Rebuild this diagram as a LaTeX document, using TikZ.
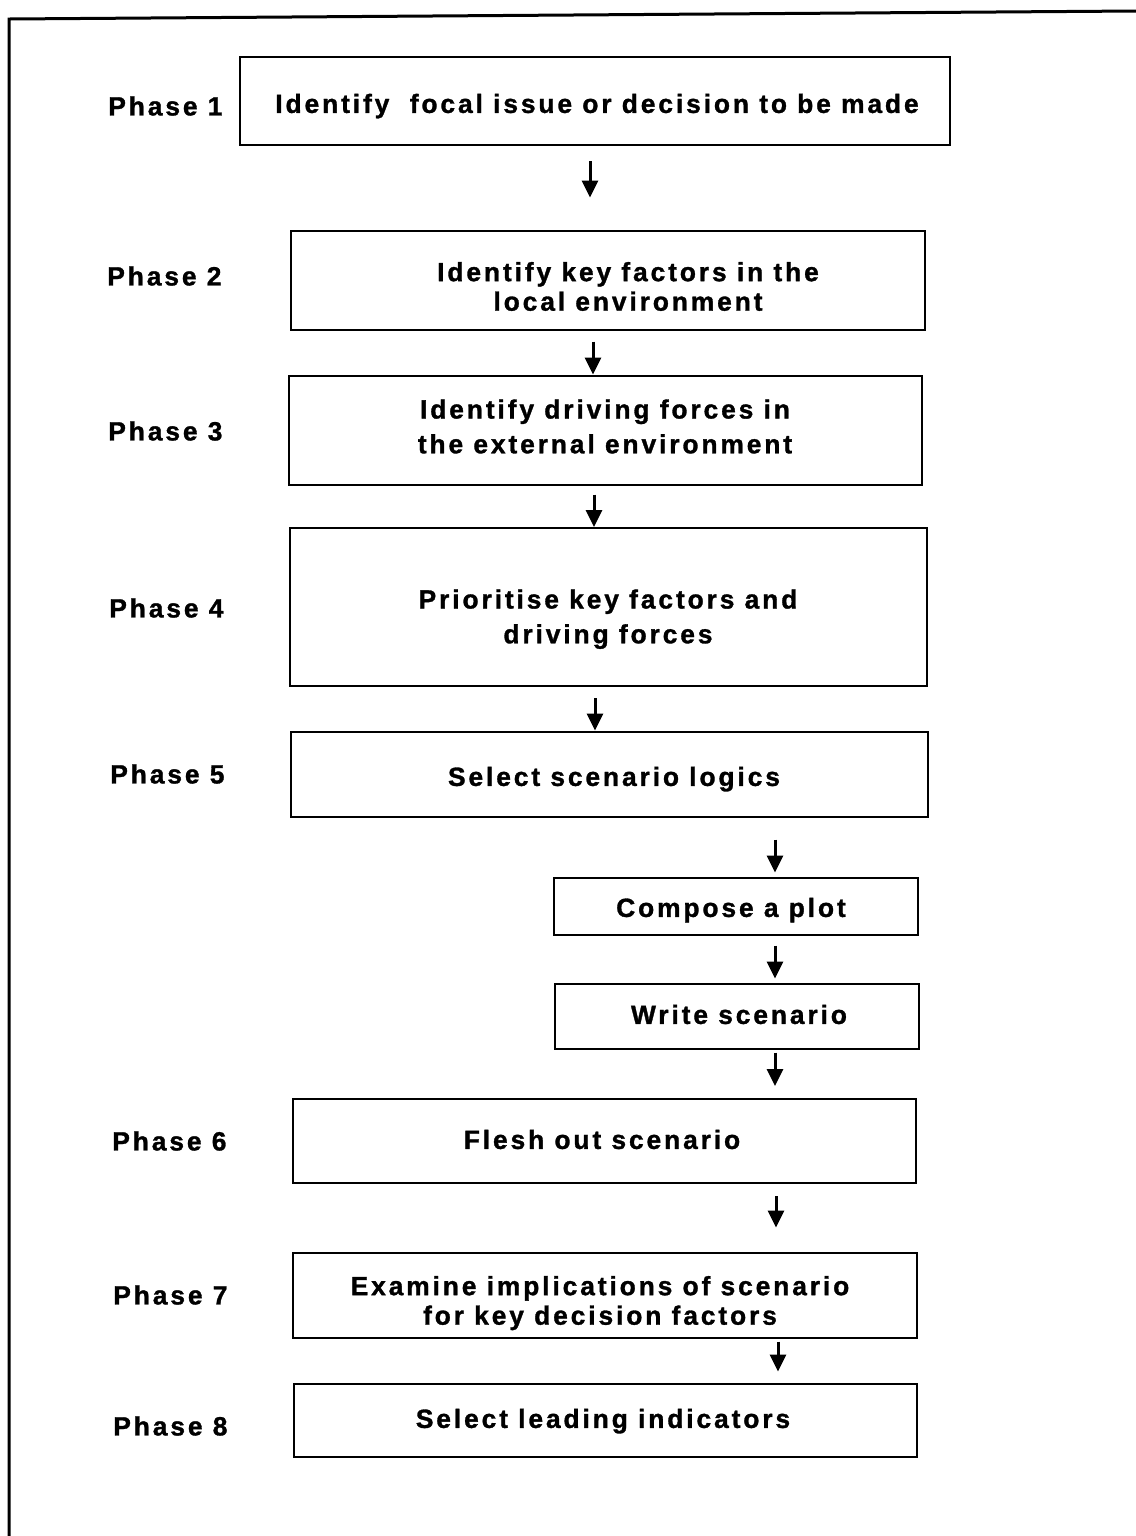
\documentclass[tikz,border=0pt]{standalone}
\usepackage{fontspec}
\setmainfont{Liberation Sans}[LetterSpace=11, BoldFeatures={FakeBold=1.2}]
\usetikzlibrary{positioning,arrows.meta}
\newdimen\pxu
\pxu=0.02cm
% text in a box: shift right by #1/2, down by #2 (pixels)
\newcommand{\boxtxt}[3]{\hspace*{#1\pxu}\raisebox{0pt}[\dimexpr\height+#2\pxu*2\relax][\depth]{\begin{tabular}{@{}c@{}}#3\end{tabular}}}

\begin{document}
\begin{tikzpicture}[
  x=0.02cm, y=-0.02cm,
  font=\fontsize{15pt}{16.8pt}\selectfont\bfseries,
  box/.style={draw, line width=2\pxu, inner sep=0pt},
  phase/.style={anchor=west, inner sep=0pt},
  arr/.style={-{Triangle[length=9.6pt, width=9pt]}, line width=3\pxu},
]
\useasboundingbox (0,0) rectangle (1136,1536);
% outer frame (cut at right and bottom)
\draw[line width=3\pxu] (9,1536) -- (9,19) -- (1136,11);

\node[box, minimum width=710\pxu, minimum height=88\pxu] (p1) at (595,101) {\boxtxt{4}{6}{Identify~ focal issue or decision to be made}};
\node[box, minimum width=634\pxu, minimum height=99\pxu] (p2) at (608,280) {\boxtxt{40}{10}{Identify key factors in the\\local environment}};
\node[box, minimum width=633\pxu, minimum height=109\pxu] (p3) at (605,430) {\boxtxt{0}{0}{Identify driving forces in\\[3pt]the external environment}};
\node[box, minimum width=637\pxu, minimum height=158\pxu] (p4) at (608,607) {\boxtxt{0}{13}{Prioritise key factors and\\[3pt]driving forces}};
\node[box, minimum width=637\pxu, minimum height=85\pxu] (p5) at (609,774) {\boxtxt{10}{6}{Select scenario logics}};
\node[box, minimum width=364\pxu, minimum height=57\pxu] (plot) at (736,906) {\boxtxt{-10}{5}{Compose a plot}};
\node[box, minimum width=364\pxu, minimum height=65\pxu] (write) at (737,1016) {\boxtxt{4}{2}{Write scenario}};
\node[box, minimum width=623\pxu, minimum height=84\pxu] (p6) at (604,1141) {\boxtxt{-4}{2}{Flesh out scenario}};
\node[box, minimum width=624\pxu, minimum height=85\pxu] (p7) at (605,1295) {\boxtxt{-10}{9}{Examine implications of scenario\\for key decision factors}};
\node[box, minimum width=623\pxu, minimum height=73\pxu] (p8) at (605,1420) {\boxtxt{-4}{2}{Select leading indicators}};

\node[phase] (l1) at (108,106) {Phase 1};
\node[phase] (l2) at (107,276) {Phase 2};
\node[phase] (l3) at (108,431) {Phase 3};
\node[phase] (l4) at (109,608) {Phase 4};
\node[phase] (l5) at (110,774) {Phase 5};
\node[phase] (l6) at (112,1141) {Phase 6};
\node[phase] (l7) at (113,1295) {Phase 7};
\node[phase] (l8) at (113,1426) {Phase 8};

\draw[arr, shorten <=15\pxu, shorten >=32\pxu] (590,0 |- p1.south) -- (590,0 |- p2.north);
\draw[arr, shorten <=11\pxu] (593,0 |- p2.south) -- (593,0 |- p3.north);
\draw[arr, shorten <=9\pxu] (594,0 |- p3.south) -- (594,0 |- p4.north);
\draw[arr, shorten <=11\pxu] (595,0 |- p4.south) -- (595,0 |- p5.north);
\draw[arr, shorten <=22\pxu, shorten >=4\pxu] (775,0 |- p5.south) -- (775,0 |- plot.north);
\draw[arr, shorten <=10\pxu, shorten >=4\pxu] (775,0 |- plot.south) -- (775,0 |- write.north);
\draw[arr, shorten <=3\pxu, shorten >=12\pxu] (775,0 |- write.south) -- (775,0 |- p6.north);
\draw[arr, shorten <=12\pxu, shorten >=24\pxu] (776,0 |- p6.south) -- (776,0 |- p7.north);
\draw[arr, shorten <=3\pxu, shorten >=11\pxu] (778,0 |- p7.south) -- (778,0 |- p8.north);
\end{tikzpicture}
\end{document}
